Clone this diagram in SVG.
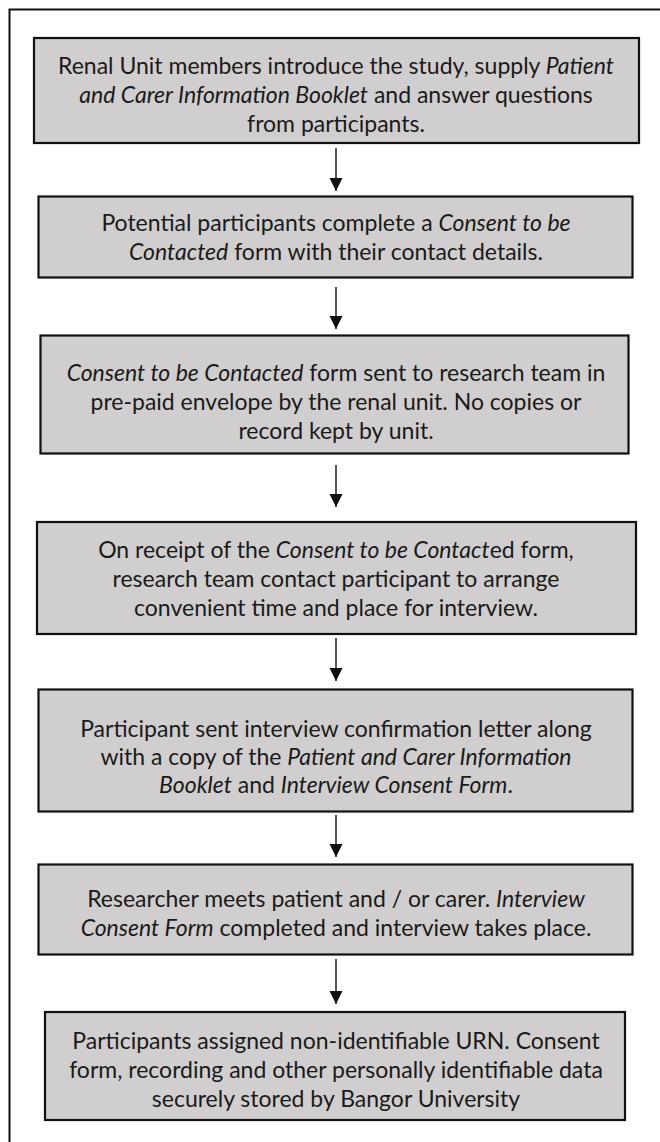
<svg xmlns="http://www.w3.org/2000/svg" width="660" height="1142" viewBox="0 0 660 1142">
<style>
.box{fill:#d0cece;stroke:#111;stroke-width:2.2}
.t{font-family:Lato,"Liberation Sans",sans-serif;font-size:23px;fill:#1a1a1a;text-anchor:middle}
.i{font-style:italic}
.c{stroke:#111;stroke-width:1.4;fill:none;marker-end:url(#ah)}
</style>
<defs>
<marker id="ah" markerUnits="userSpaceOnUse" markerWidth="13" markerHeight="14" refX="13" refY="6.5" orient="auto">
<path d="M0,0 L13,6.5 L0,13 z" fill="#111"/>
</marker>
</defs>
<rect width="660" height="1142" fill="#fff"/>
<path d="M9.5,1142 V9.5 H660" fill="none" stroke="#111" stroke-width="2"/>
<g id="connectors">
<line class="c" x1="336" y1="148" x2="336" y2="191"/>
<line class="c" x1="336" y1="287" x2="336" y2="329"/>
<line class="c" x1="336" y1="465" x2="336" y2="507"/>
<line class="c" x1="336" y1="638" x2="336" y2="681"/>
<line class="c" x1="336" y1="815" x2="336" y2="857"/>
<line class="c" x1="336" y1="959" x2="336" y2="1004"/>
</g>
<g id="n1">
<rect class="box" x="34" y="38" width="605" height="105"/>
<text class="t" x="336" y="74">Renal Unit members introduce the study, supply <tspan class="i">Patient</tspan></text>
<text class="t" x="336" y="103"><tspan class="i">and Carer Information Booklet</tspan> and answer questions</text>
<text class="t" x="336" y="132">from participants.</text>
</g>
<g id="n2">
<rect class="box" x="38.5" y="196.5" width="594" height="81"/>
<text class="t" x="336" y="231">Potential participants complete a <tspan class="i">Consent to be</tspan></text>
<text class="t" x="336" y="260"><tspan class="i">Contacted</tspan> form with their contact details.</text>
</g>
<g id="n3">
<rect class="box" x="40.5" y="335.5" width="588" height="118"/>
<text class="t" x="336" y="381"><tspan class="i">Consent to be Contacted</tspan> form sent to research team in</text>
<text class="t" x="336" y="410">pre-paid envelope by the renal unit. No copies or</text>
<text class="t" x="336" y="439">record kept by unit.</text>
</g>
<g id="n4">
<rect class="box" x="37" y="522" width="599" height="112"/>
<text class="t" x="336" y="558">On receipt of the <tspan class="i">Consent to be Contact</tspan>ed form,</text>
<text class="t" x="336" y="587">research team contact participant to arrange</text>
<text class="t" x="336" y="616">convenient time and place for interview.</text>
</g>
<g id="n5">
<rect class="box" x="38.5" y="689.5" width="594" height="122"/>
<text class="t" x="336" y="737">Participant sent interview confirmation letter along</text>
<text class="t" x="336" y="765">with a copy of the <tspan class="i">Patient and Carer Information</tspan></text>
<text class="t" x="336" y="793"><tspan class="i">Booklet</tspan> and <tspan class="i">Interview Consent Form</tspan>.</text>
</g>
<g id="n6">
<rect class="box" x="38.5" y="864.5" width="594" height="90"/>
<text class="t" x="336" y="907">Researcher meets patient and / or carer. <tspan class="i">Interview</tspan></text>
<text class="t" x="336" y="936"><tspan class="i">Consent Form</tspan> completed and interview takes place.</text>
</g>
<g id="n7">
<rect class="box" x="45" y="1012" width="580" height="108"/>
<text class="t" x="336" y="1049">Participants assigned non-identifiable URN. Consent</text>
<text class="t" x="336" y="1078">form, recording and other personally identifiable data</text>
<text class="t" x="336" y="1107">securely stored by Bangor University</text>
</g>
</svg>
